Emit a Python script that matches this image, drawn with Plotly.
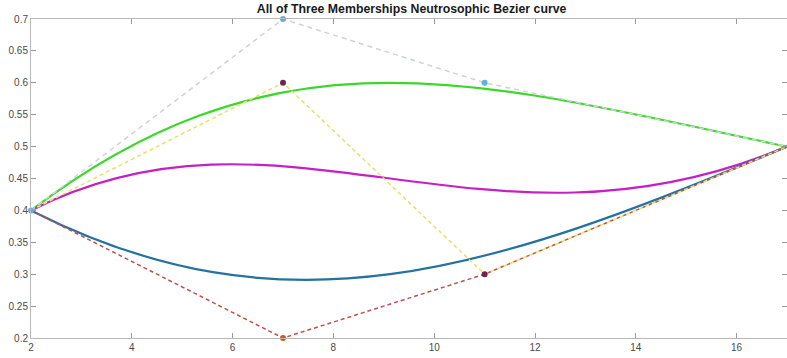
import plotly.graph_objects as go

# Control points of the three Bezier curves (x shared)
ctrl_x = [2, 7, 11, 17]
truth_y = [0.4, 0.7, 0.6, 0.5]          # green curve, light gray polygon, cyan points
indet_y = [0.4, 0.6, 0.3, 0.5]          # magenta curve, yellow polygon, purple points
false_y = [0.4, 0.2, 0.3, 0.5]          # blue curve, red polygon, red point

x_ticks = [2, 4, 6, 8, 10, 12, 14, 16]
y_ticks = [0.2, 0.25, 0.3, 0.35, 0.4, 0.45, 0.5, 0.55, 0.6, 0.65, 0.7]
y_ticktext = ["0.2", "0.25", "0.3", "0.35", "0.4", "0.45", "0.5", "0.55", "0.6", "0.65", "0.7"]
title_text = "All of Three Memberships Neutrosophic Bezier curve"

fig = go.Figure()

# control polygons (dashed)
fig.add_trace(go.Scatter(x=ctrl_x, y=false_y, mode="lines",
                         line=dict(color="#c0504d", width=1.5, dash="4px,3px"), showlegend=False))
fig.add_trace(go.Scatter(x=ctrl_x, y=indet_y, mode="lines",
                         line=dict(color="#e6e070", width=1.5, dash="4px,3px"), showlegend=False))
fig.add_trace(go.Scatter(x=ctrl_x, y=truth_y, mode="lines",
                         line=dict(color="#cfd3d6", width=1.5, dash="5px,4px"), showlegend=False))

# control point markers
fig.add_trace(go.Scatter(x=ctrl_x[:3], y=truth_y[:3], mode="markers", cliponaxis=False,
                         marker=dict(color="#5bb3e0", size=6), showlegend=False))
fig.add_trace(go.Scatter(x=ctrl_x[1:3], y=indet_y[1:3], mode="markers", cliponaxis=False,
                         marker=dict(color="#6e2350", size=6), showlegend=False))
fig.add_trace(go.Scatter(x=ctrl_x[1:2], y=false_y[1:2], mode="markers", cliponaxis=False,
                         marker=dict(color="#d9531e", size=6), showlegend=False))


def bezier_path(xs, ys):
    return "M {},{} C {},{} {},{} {},{}".format(xs[0], ys[0], xs[1], ys[1], xs[2], ys[2], xs[3], ys[3])


for ys, col in [(truth_y, "#3ad82a"), (indet_y, "#c520c5"), (false_y, "#2372a0")]:
    fig.add_shape(type="path", path=bezier_path(ctrl_x, ys), xref="x", yref="y",
                  line=dict(color=col, width=2.2), layer="below")

axis_common = dict(showgrid=False, zeroline=False, showline=True, linecolor="#b8b8b8",
                   linewidth=1, ticks="inside", ticklen=5, tickcolor="#9a9a9a",
                   mirror="ticks", tickfont=dict(family="Liberation Sans, Arial", size=10, color="#4a4a4a"))

fig.update_xaxes(range=[2, 17], tickvals=x_ticks, **axis_common)
fig.update_yaxes(range=[0.2, 0.7], tickvals=y_ticks, ticktext=y_ticktext, **axis_common)

fig.update_layout(
    width=787, height=358,
    margin=dict(l=31, r=0, t=19, b=20),
    paper_bgcolor="white", plot_bgcolor="white",
    title=dict(text="<b>" + title_text + "</b>", x=0.523, xanchor="center", y=0.987, yanchor="top",
               font=dict(family="Liberation Sans, Arial", size=12.3, color="#1a1a1a")),
)

fig.write_html("out.html")
